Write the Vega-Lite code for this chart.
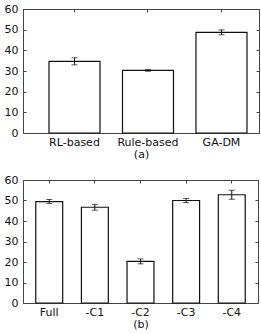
{
  "$schema": "https://vega.github.io/schema/vega-lite/v6.json",
  "padding": {"left": 3, "top": 2, "right": 2, "bottom": 2},
  "background": "white",
  "config": {
    "font": "DejaVu Sans",
    "view": {"stroke": "#444", "strokeWidth": 1},
    "axis": {
      "domain": false,
      "grid": false,
      "labelFont": "DejaVu Sans",
      "labelFontSize": 11,
      "labelColor": "#111",
      "tickColor": "#444",
      "tickSize": -3,
      "titleFont": "DejaVu Sans",
      "titleFontSize": 11,
      "titleFontWeight": "normal",
      "titleColor": "#111"
    }
  },
  "datasets": {
    "a": [
      {"method": "RL-based", "value": 34.7, "err": 1.7},
      {"method": "Rule-based", "value": 30.3, "err": 0.4},
      {"method": "GA-DM", "value": 48.7, "err": 1.2}
    ],
    "b": [
      {"variant": "Full", "value": 49.5, "err": 1.0},
      {"variant": "-C1", "value": 46.7, "err": 1.4},
      {"variant": "-C2", "value": 20.3, "err": 1.2},
      {"variant": "-C3", "value": 50.0, "err": 1.0},
      {"variant": "-C4", "value": 52.8, "err": 2.2}
    ]
  },
  "bounds": "flush",
  "spacing": 47,
  "vconcat": [
    {
      "width": 236,
      "height": 124,
      "data": {"name": "a"},
      "layer": [
        {
          "mark": {"type": "bar", "fill": "white", "stroke": "#111", "strokeWidth": 1.2},
          "encoding": {
            "x": {"field": "method", "type": "nominal", "sort": null,
              "scale": {"paddingInner": 0.306, "paddingOuter": 0.2585, "align": 0.684},
              "axis": {"orient": "bottom", "labelAngle": 0, "title": "(a)", "labelPadding": 6, "titlePadding": 1}},
            "y": {"field": "value", "type": "quantitative",
              "scale": {"domain": [0, 60], "nice": false},
              "axis": {"orient": "left", "values": [0, 10, 20, 30, 40, 50, 60], "title": null, "labelPadding": 8}}
          }
        },
        {
          "mark": {"type": "errorbar", "ticks": {"size": 6, "color": "#111"}, "rule": {"color": "#111", "strokeWidth": 1}},
          "encoding": {
            "x": {"field": "method", "type": "nominal", "sort": null,
              "axis": {"orient": "top", "labels": false, "title": null}},
            "y": {"field": "value", "type": "quantitative",
              "axis": {"orient": "right", "labels": false, "title": null, "values": [0, 10, 20, 30, 40, 50, 60]}},
            "yError": {"field": "err"}
          }
        }
      ]
    },
    {
      "width": 235,
      "height": 123,
      "data": {"name": "b"},
      "layer": [
        {
          "mark": {"type": "bar", "fill": "white", "stroke": "#111", "strokeWidth": 1.2},
          "encoding": {
            "x": {"field": "variant", "type": "nominal", "sort": null,
              "scale": {"paddingInner": 0.41, "paddingOuter": 0.28},
              "axis": {"orient": "bottom", "labelAngle": 0, "title": "(b)", "labelPadding": 6, "titlePadding": 1}},
            "y": {"field": "value", "type": "quantitative",
              "scale": {"domain": [0, 60], "nice": false},
              "axis": {"orient": "left", "values": [0, 10, 20, 30, 40, 50, 60], "title": null, "labelPadding": 8}}
          }
        },
        {
          "mark": {"type": "errorbar", "ticks": {"size": 6, "color": "#111"}, "rule": {"color": "#111", "strokeWidth": 1}},
          "encoding": {
            "x": {"field": "variant", "type": "nominal", "sort": null,
              "axis": {"orient": "top", "labels": false, "title": null}},
            "y": {"field": "value", "type": "quantitative",
              "axis": {"orient": "right", "labels": false, "title": null, "values": [0, 10, 20, 30, 40, 50, 60]}},
            "yError": {"field": "err"}
          }
        }
      ]
    }
  ]
}
